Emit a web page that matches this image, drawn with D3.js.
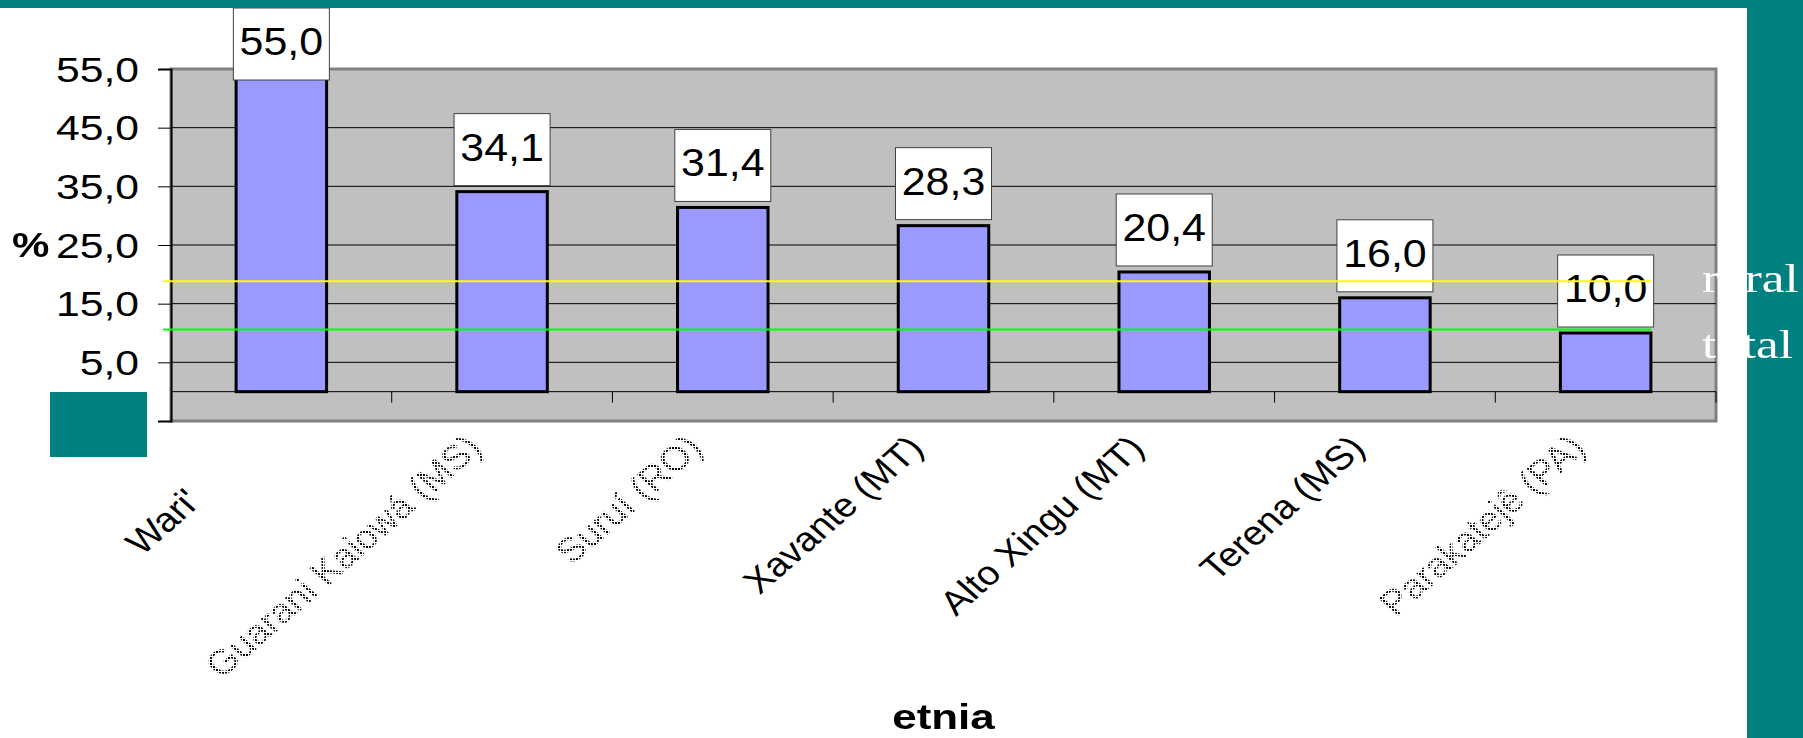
<!DOCTYPE html>
<html>
<head>
<meta charset="utf-8">
<script src="https://cdn.jsdelivr.net/npm/d3@7/dist/d3.min.js"></script>
<style>
  html, body { margin: 0; padding: 0; background: #ffffff; }
  svg { display: block; }
</style>
</head>
<body>
<svg id="chart" width="1803" height="738"></svg>
<script>
// Prevalência por etnia (%)
const categories = ["Wari'\u00a0\u00a0\u00a0\u00a0\u00a0\u00a0\u00a0\u00a0", "Guarani Kaiowá (MS)", "Suruí (RO)", "Xavante (MT)", "Alto Xingu (MT)", "Terena (MS)", "Parakatejê (PA)"];
const values = [55.0, 34.1, 31.4, 28.3, 20.4, 16.0, 10.0];
const yTickValues = [-5, 5, 15, 25, 35, 45, 55];
const refLabels = ["rural", "total"];
const refValues = [18.8, 10.6];
const yTitle = "%";
const xTitle = "etnia";

const W = 1803, H = 738;
const plot = { left: 171, right: 1716, top: 69, bottom: 421 };
const sans = "Arial, 'Liberation Sans', sans-serif";
const serif = "'Liberation Serif', 'Times New Roman', serif";
const teal = "#008080";

const svg = d3.select("#chart");
const fmt = v => d3.format(".1f")(v).replace(".", ",").replace("\u2212", "-");

const x = d3.scaleBand().domain(categories).range([plot.left, plot.right]);
const y = d3.scaleLinear().domain([-5, 55]).range([plot.bottom, plot.top]);
const barW = x.bandwidth() * 0.41;
const y0 = y(0);
const catStretch = 1.14;

// screen-aligned dot mask for labels with accented characters
const defs = svg.append("defs");
const pat = defs.append("pattern")
  .attr("id", "dotTile").attr("patternUnits", "userSpaceOnUse")
  .attr("width", 3).attr("height", 3);
pat.append("rect").attr("width", 2).attr("height", 2).attr("fill", "#fff")
  .attr("shape-rendering", "crispEdges");
defs.append("mask").attr("id", "dotMask")
  .attr("maskUnits", "userSpaceOnUse")
  .attr("x", 0).attr("y", 0).attr("width", W).attr("height", H)
  .append("rect").attr("width", W).attr("height", H).attr("fill", "url(#dotTile)");

// plot area
svg.append("rect")
  .attr("x", plot.left).attr("y", plot.top)
  .attr("width", plot.right - plot.left).attr("height", plot.bottom - plot.top)
  .attr("fill", "#c0c0c0").attr("stroke", "#808080").attr("stroke-width", 3);

// gridlines
svg.append("g").selectAll("line")
  .data(yTickValues.filter(v => v > -5 && v < 55))
  .join("line")
  .attr("x1", plot.left).attr("x2", plot.right)
  .attr("y1", d => y(d)).attr("y2", d => y(d))
  .attr("stroke", "#000").attr("stroke-width", 1);

// value axis
const yAxis = d3.axisLeft(y).tickValues(yTickValues).tickSize(13).tickFormat(fmt);
const gy = svg.append("g").attr("transform", `translate(${plot.left},0)`).call(yAxis);
gy.select(".domain").attr("stroke", "#000").attr("stroke-width", 2);
gy.selectAll(".tick line").attr("stroke", "#000").attr("stroke-width", 1);
gy.selectAll(".tick text")
  .attr("dy", null).attr("x", null).attr("text-anchor", "end")
  .style("font-family", sans).style("font-size", "35px").attr("fill", "#000")
  .attr("transform", "translate(-32,12) scale(1.22,1)");

// category axis at zero
svg.append("line")
  .attr("x1", plot.left).attr("x2", plot.right)
  .attr("y1", y0).attr("y2", y0)
  .attr("stroke", "#000").attr("stroke-width", 1);
svg.append("g").selectAll("line")
  .data(categories)
  .join("line")
  .attr("x1", d => x(d) + x.bandwidth()).attr("x2", d => x(d) + x.bandwidth())
  .attr("y1", y0).attr("y2", y0 + 11)
  .attr("stroke", "#000").attr("stroke-width", 1);

// bars
const data = categories.map((c, i) => ({ c, v: values[i] }));
svg.append("g").selectAll("rect")
  .data(data)
  .join("rect")
  .attr("x", d => x(d.c) + (x.bandwidth() - barW) / 2)
  .attr("y", d => y(d.v))
  .attr("width", barW)
  .attr("height", d => y0 - y(d.v))
  .attr("fill", "#9999ff").attr("stroke", "#000").attr("stroke-width", 3);

// value labels
const boxW = 96, boxH = 72;
const lab = svg.append("g").selectAll("g")
  .data(data)
  .join("g")
  .attr("transform", d => {
    const cx = x(d.c) + x.bandwidth() / 2;
    const top = Math.max(8, y(d.v) - 6 - boxH);
    return `translate(${cx},${top})`;
  });
lab.append("rect")
  .attr("x", -boxW / 2).attr("y", 0).attr("width", boxW).attr("height", boxH)
  .attr("fill", "#fff").attr("stroke", "#404040").attr("stroke-width", 1);
lab.append("text")
  .attr("text-anchor", "middle")
  .style("font-family", sans).style("font-size", "38px")
  .attr("transform", "translate(0,47) scale(1.13,1)")
  .text(d => fmt(d.v));

// category labels (accented ones rendered dotted)
const accented = d => /[^\x00-\x7F]/.test(d.replace(/\u00a0/g, ""));
const catPos = d => `translate(${x(d) + x.bandwidth() / 2 - 18},450) scale(${catStretch},1) rotate(-45)`;
svg.append("g").selectAll("text")
  .data(categories.filter(d => !accented(d)))
  .join("text")
  .attr("text-anchor", "end")
  .style("font-family", sans).style("font-size", "34px")
  .attr("fill", "#000")
  .attr("transform", catPos)
  .text(d => d);
svg.append("g").attr("mask", "url(#dotMask)").selectAll("text")
  .data(categories.filter(accented))
  .join("text")
  .attr("text-anchor", "end")
  .style("font-family", sans).style("font-size", "34px")
  .attr("fill", "#000")
  .attr("transform", catPos)
  .text(d => d);

// axis titles
svg.append("text")
  .style("font-family", sans).style("font-size", "35px").style("font-weight", "bold")
  .attr("transform", `translate(12,${(plot.top + plot.bottom) / 2 + 12}) scale(1.2,1)`)
  .text(yTitle);
svg.append("text")
  .style("font-family", sans).style("font-size", "36px").style("font-weight", "bold")
  .attr("text-anchor", "middle")
  .attr("transform", `translate(${(plot.left + plot.right) / 2},729) scale(1.22,1)`)
  .text(xTitle);

// slide frame
svg.append("rect").attr("x", 0).attr("y", 0).attr("width", W).attr("height", 8).attr("fill", teal);
svg.append("rect").attr("x", 1747).attr("y", 0).attr("width", W - 1747).attr("height", H).attr("fill", teal);
svg.append("rect").attr("x", 50).attr("y", 392).attr("width", 97).attr("height", 65).attr("fill", teal);

// reference lines
const refColors = ["#ffff00", "#00ff00"];
svg.append("g").selectAll("line")
  .data(refValues)
  .join("line")
  .attr("x1", 163).attr("x2", 1651)
  .attr("y1", d => y(d)).attr("y2", d => y(d))
  .attr("stroke", (d, i) => refColors[i]).attr("stroke-width", 2);

svg.append("g").selectAll("text")
  .data(refLabels)
  .join("text")
  .style("font-family", serif).style("font-size", "40px")
  .attr("fill", "#fff")
  .attr("transform", (d, i) => `translate(1702,${292 + i * 66}) scale(1.28,1)`)
  .text(d => d);
</script>
</body>
</html>
